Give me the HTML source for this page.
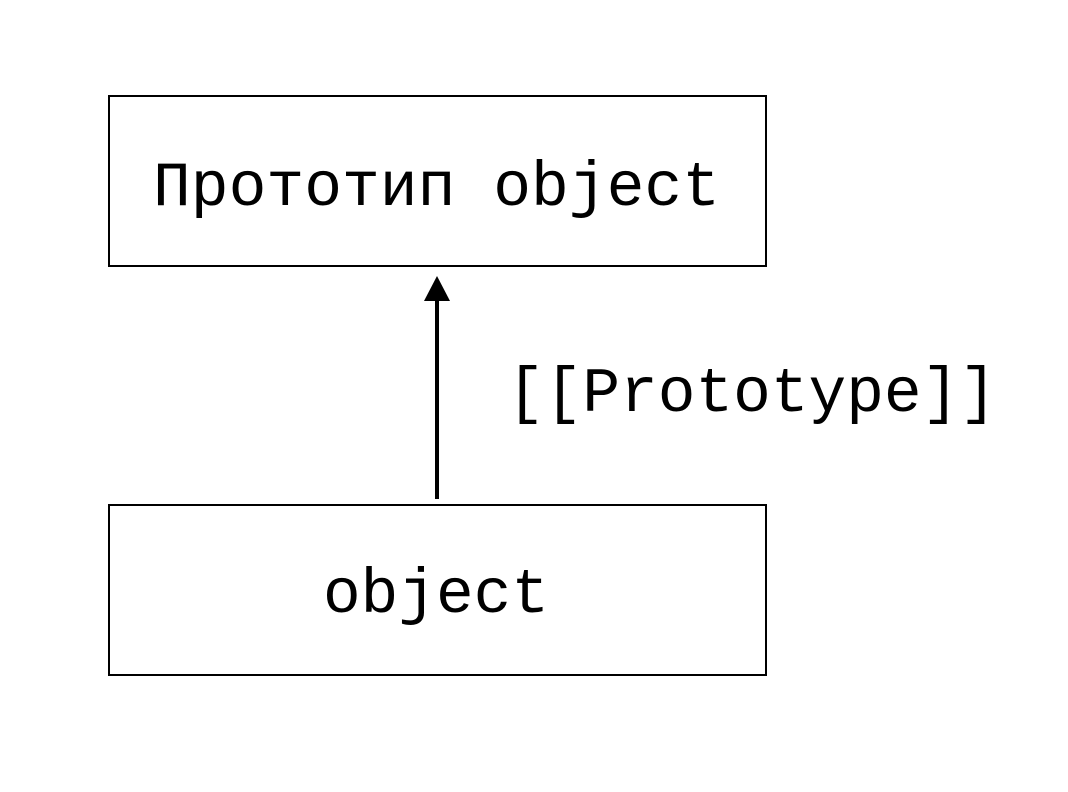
<!DOCTYPE html>
<html><head><meta charset="utf-8"><style>html,body{margin:0;padding:0;background:#fff}</style></head>
<body>
<svg width="1068" height="787" xmlns="http://www.w3.org/2000/svg">
<rect x="0" y="0" width="1068" height="787" fill="#fff"/>
<rect x="109" y="96" width="657" height="170" fill="none" stroke="#000" stroke-width="2"/>
<rect x="109" y="505" width="657" height="170" fill="none" stroke="#000" stroke-width="2"/>
<g font-family="Liberation Mono, DejaVu Sans Mono, monospace" font-size="63" fill="#000">
<text x="153" y="205" textLength="567" lengthAdjust="spacingAndGlyphs">Прототип object</text>
<text x="323" y="612" textLength="226" lengthAdjust="spacingAndGlyphs">object</text>
<text x="507" y="411" textLength="490" lengthAdjust="spacingAndGlyphs">[[Prototype]]</text>
</g>
<line x1="437" y1="499" x2="437" y2="298" stroke="#000" stroke-width="4"/>
<polygon points="437,276 424,301 450,301" fill="#000"/>
</svg>
</body></html>
